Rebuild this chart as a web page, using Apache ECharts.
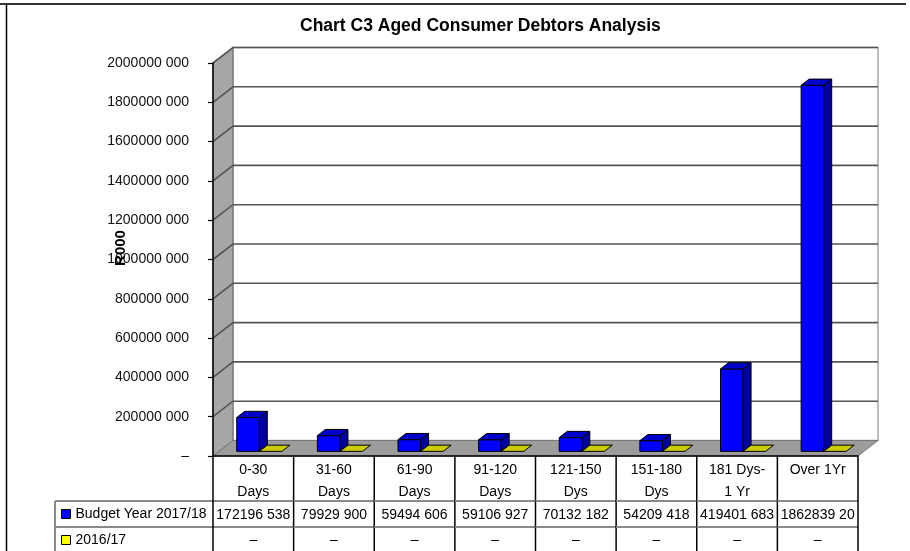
<!DOCTYPE html>
<html><head><meta charset="utf-8">
<script src="https://cdn.jsdelivr.net/npm/echarts@6/dist/echarts.min.js"></script>
<style>html,body{margin:0;padding:0;background:#fff}#c{width:910px;height:551px}</style>
</head><body><div id="c"></div>
<script>
const chartTitle = 'Chart C3 Aged Consumer Debtors Analysis';
const yAxisName = 'R000';
const categories = ['0-30\nDays', '31-60\nDays', '61-90\nDays', '91-120\nDays', '121-150\nDys', '151-180\nDys', '181 Dys-\n1 Yr', 'Over 1Yr'];
const seriesNames = ['Budget Year 2017/18', '2016/17'];
const budget2017 = [172196538, 79929900, 59494606, 59106927, 70132182, 54209418, 419401683, 1862839200];
const prior2016 = [0, 0, 0, 0, 0, 0, 0, 0];
const yMin = 0, yMax = 2000000000, yStep = 200000000;

const FONT = "'Liberation Sans', Arial, sans-serif";
const FS = 14;
const DX = 20, DY = -15.5;

function fmt(v) {
  if (!v) return '–';
  const t = Math.floor(v / 1000);
  const r = String(Math.round(v % 1000)).padStart(3, '0');
  return t + ' ' + r;
}

function renderWalls(params, api) {
  const n = categories.length;
  const band = api.size([1, 0])[0];
  const x0 = api.coord([0, yMin])[0] - band / 2;
  const x1 = api.coord([n - 1, yMin])[0] + band / 2;
  const yb = api.coord([0, yMin])[1];
  const yt = api.coord([0, yMax])[1];
  const ch = [];
  ch.push({type: 'polygon', shape: {points: [[x0 + DX, yt + DY], [x1 + DX, yt + DY], [x1 + DX, yb + DY], [x0 + DX, yb + DY]]}, style: {fill: '#fff', stroke: '#a8a8a8', lineWidth: 1.5}});
  ch.push({type: 'polygon', shape: {points: [[x0, yt], [x0 + DX, yt + DY], [x0 + DX, yb + DY], [x0, yb]]}, style: {fill: '#a6a6a6', stroke: '#666', lineWidth: 1}});
  ch.push({type: 'polygon', shape: {points: [[x0, yb], [x1, yb], [x1 + DX, yb + DY], [x0 + DX, yb + DY]]}, style: {fill: '#9c9c9c', stroke: '#777', lineWidth: 1}});
  for (let v = yMin + yStep; v <= yMax + 1; v += yStep) {
    const y = api.coord([0, v])[1];
    ch.push({type: 'polyline', shape: {points: [[x0, y], [x0 + DX, y + DY], [x1 + DX, y + DY]]}, style: {stroke: '#555', lineWidth: 1.6, fill: null}});
  }
  return {type: 'group', children: ch};
}

function makeBarRender(sIdx, colors) {
  return function (params, api) {
    const i = api.value(0), v = api.value(1);
    const band = api.size([1, 0])[0];
    const w = band * 0.28;
    const cx = api.coord([i, 0])[0] + (sIdx === 0 ? -w / 2 : w / 2);
    const yb = api.coord([i, 0])[1];
    const yt = api.coord([i, v])[1];
    const fx = 0.3 * DX, fy = 0.3 * DY, bx = 0.7 * DX, by = 0.7 * DY;
    const l = cx - w / 2 + fx, r = cx + w / 2 + fx;
    const b = yb + fy, t = yt + fy;
    const ddx = bx - fx, ddy = by - fy;
    const ch = [];
    const st = {stroke: '#000', lineWidth: 1, lineJoin: 'round'};
    if (b - t > 0.5) {
      ch.push({type: 'polygon', shape: {points: [[l, t], [r, t], [r, b], [l, b]]}, style: Object.assign({fill: colors.front}, st)});
      ch.push({type: 'polygon', shape: {points: [[r, t], [r + ddx, t + ddy], [r + ddx, b + ddy], [r, b]]}, style: Object.assign({fill: colors.side}, st)});
    }
    ch.push({type: 'polygon', shape: {points: [[l, t], [r, t], [r + ddx, t + ddy], [l + ddx, t + ddy]]}, style: Object.assign({fill: colors.top}, st)});
    return {type: 'group', children: ch};
  };
}

function renderTable(params, api) {
  const i = api.value(0);
  const band = api.size([1, 0])[0];
  const cx = api.coord([i, 0])[0];
  const y0 = api.coord([i, 0])[1];
  const l = cx - band / 2, r = cx + band / 2;
  const y1 = y0 + 45, y2 = y1 + 26, y3 = y2 + 26;
  const ch = [];
  const gray = {stroke: '#8a8a8a', lineWidth: 2};
  const black = {stroke: '#000', lineWidth: 1.5};
  const txt = {fontSize: FS, fontFamily: FONT, fill: '#000'};
  ch.push({type: 'line', shape: {x1: l, y1: y1, x2: r, y2: y1}, style: gray});
  ch.push({type: 'line', shape: {x1: l, y1: y2, x2: r, y2: y2}, style: gray});
  if (i === 0) {
    ch.push({type: 'line', shape: {x1: 55, y1: y1, x2: l, y2: y1}, style: gray});
    ch.push({type: 'line', shape: {x1: 55, y1: y2, x2: l, y2: y2}, style: gray});
    ch.push({type: 'line', shape: {x1: 55, y1: y1, x2: 55, y2: y3}, style: gray});
    ch.push({type: 'line', shape: {x1: l, y1: y0, x2: l, y2: y3}, style: black});
  }
  ch.push({type: 'line', shape: {x1: r, y1: y0, x2: r, y2: y3}, style: black});
  ch.push({type: 'text', x: cx, y: y0 + 3, style: Object.assign({text: categories[i], align: 'center', verticalAlign: 'top', lineHeight: 22}, txt)});
  ch.push({type: 'text', x: cx, y: (y1 + y2) / 2 + 1, style: Object.assign({text: fmt(budget2017[i]), align: 'center', verticalAlign: 'middle', width: band, overflow: 'truncate', ellipsis: ''}, txt)});
  ch.push({type: 'text', x: cx, y: (y2 + y3) / 2, style: Object.assign({text: fmt(prior2016[i]), align: 'center', verticalAlign: 'middle'}, txt)});
  return {type: 'group', children: ch};
}

const chart = echarts.init(document.getElementById('c'), null, {renderer: 'canvas'});
chart.setOption({
  animation: false,
  backgroundColor: '#fff',
  title: {text: chartTitle, left: 295, top: 12, padding: 5,
    textStyle: {fontSize: 17.5, fontWeight: 'bold', fontFamily: FONT, color: '#000'}},
  legend: {orient: 'vertical', left: 61, top: 506, height: 60, padding: 0, itemWidth: 9, itemHeight: 9, itemGap: 10, icon: 'rect',
    selectedMode: false, data: seriesNames,
    itemStyle: {borderColor: '#000', borderWidth: 1},
    textStyle: {fontSize: FS, lineHeight: 16, fontFamily: FONT, color: '#000'}},
  grid: {left: 213, right: 52, top: 63, bottom: 95, containLabel: false, outerBoundsMode: 'none'},
  xAxis: {type: 'category', data: categories, z: 10,
    axisLine: {show: true, lineStyle: {color: '#000', width: 1.5}},
    axisTick: {show: false}, axisLabel: {show: false}, splitLine: {show: false}},
  yAxis: {type: 'value', min: yMin, max: yMax, interval: yStep, z: 10,
    axisLine: {show: true, lineStyle: {color: '#000', width: 1.5}},
    axisTick: {show: true, length: 5, lineStyle: {color: '#000', width: 1.2}},
    splitLine: {show: false},
    axisLabel: {margin: 24, formatter: fmt, fontSize: FS, fontFamily: FONT, color: '#111'}},
  graphic: [
    {type: 'line', shape: {x1: 0, y1: 4, x2: 906, y2: 4}, style: {stroke: '#333', lineWidth: 2}},
    {type: 'line', shape: {x1: 6.5, y1: 4, x2: 6.5, y2: 551}, style: {stroke: '#000', lineWidth: 1.5}},
    {type: 'text', x: 121, y: 248, rotation: Math.PI / 2, z: 100,
      style: {text: yAxisName, align: 'center', verticalAlign: 'middle', fontSize: 15, fontWeight: 'bold', fontFamily: FONT, fill: '#000'}}
  ],
  series: [
    {type: 'custom', name: 'walls', z: 1, silent: true, data: [[0, 0]], renderItem: renderWalls},
    {type: 'custom', name: seriesNames[0], z: 3, data: budget2017.map((v, i) => [i, v]),
      itemStyle: {color: '#0000ff'}, renderItem: makeBarRender(0, {front: '#0000ff', side: '#00009c', top: '#0000cc'})},
    {type: 'custom', name: seriesNames[1], z: 3, data: prior2016.map((v, i) => [i, v]),
      itemStyle: {color: '#ffff00'}, renderItem: makeBarRender(1, {front: '#ffff00', side: '#9c9c00', top: '#cccc00'})},
    {type: 'custom', name: 'table', z: 4, silent: true, data: categories.map((c, i) => [i, 0]), renderItem: renderTable}
  ]
});
</script></body></html>
